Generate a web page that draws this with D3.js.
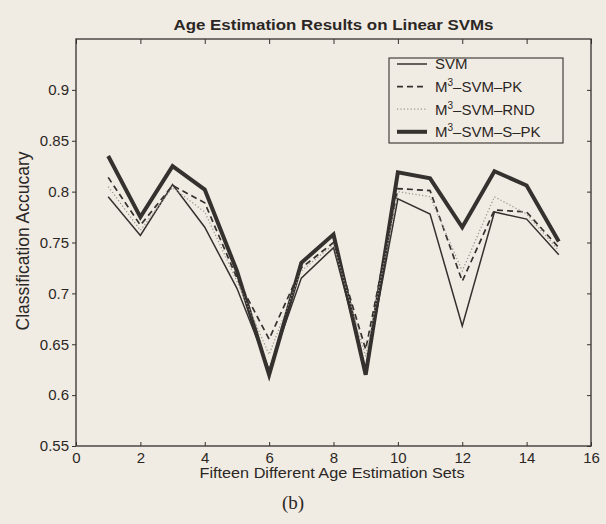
<html>
<head>
    <script src="https://d3js.org/d3.v7.min.js"></script>
    <style>
        body { margin: 0; background: #f1ece3; }
        text { font-family: "Liberation Sans", Arial, sans-serif; fill: #2b2725; }
    </style>
</head>
<body>
    <svg id="chart" width="606" height="524"></svg>

    <script>
    // fifteen age estimation sets
    const sets = [1, 2, 3, 4, 5, 6, 7, 8, 9, 10, 11, 12, 13, 14, 15];

    // classification accuracy
    const svmAcc  = [0.795, 0.757, 0.807, 0.765, 0.705, 0.625, 0.715, 0.745, 0.625, 0.793, 0.778, 0.668, 0.780, 0.773, 0.738];
    const pkAcc   = [0.814, 0.767, 0.806, 0.789, 0.715, 0.655, 0.725, 0.750, 0.645, 0.803, 0.801, 0.712, 0.782, 0.780, 0.745];
    const rndAcc  = [0.805, 0.762, 0.804, 0.780, 0.712, 0.640, 0.722, 0.748, 0.638, 0.800, 0.795, 0.722, 0.795, 0.778, 0.742];
    const spkAcc  = [0.835, 0.775, 0.825, 0.802, 0.722, 0.620, 0.730, 0.758, 0.620, 0.819, 0.813, 0.765, 0.820, 0.806, 0.751];

    const seriesNames = ["SVM", "M3–SVM–PK", "M3–SVM–RND", "M3–SVM–S–PK"];

    const xTicks = [0, 2, 4, 6, 8, 10, 12, 14, 16];
    const yTicks = [0.55, 0.6, 0.65, 0.7, 0.75, 0.8, 0.85, 0.9];
    const yTickLabels = ["0.55", "0.6", "0.65", "0.7", "0.75", "0.8", "0.85", "0.9"];

    const svg = d3.select("#chart");
    const ink = "#35312f";
    const plotLeft = 76, plotRight = 591, plotTop = 39, plotBottom = 446;

    const x = d3.scaleLinear().domain([0, 16]).range([plotLeft, plotRight]);
    const y = d3.scaleLinear().domain([0.55, 0.95]).range([plotBottom, plotTop]);

    svg.append("rect").attr("width", 606).attr("height", 524).attr("fill", "#f1ece3");

    // axes, matlab style box
    const styleAxis = g => {
        g.select(".domain").remove();
        g.selectAll("line").attr("stroke", ink).attr("stroke-width", 1);
        g.attr("font-family", null).attr("font-size", null);
        g.selectAll("text").style("font-size", "15px");
    };

    svg.append("g").attr("transform", `translate(0,${plotBottom})`)
        .call(d3.axisBottom(x).tickValues(xTicks).tickSizeInner(-4).tickSizeOuter(0).tickPadding(6).tickFormat(d3.format("d")))
        .call(styleAxis);
    svg.append("g").attr("transform", `translate(0,${plotTop})`)
        .call(d3.axisTop(x).tickValues(xTicks).tickSizeInner(-5).tickSizeOuter(0).tickFormat(""))
        .call(styleAxis);
    svg.append("g").attr("transform", `translate(${plotLeft},0)`)
        .call(d3.axisLeft(y).tickValues(yTicks).tickSizeInner(4).tickSizeOuter(0).tickPadding(3).tickFormat((d, i) => yTickLabels[i]))
        .call(styleAxis);
    svg.append("g").attr("transform", `translate(${plotRight},0)`)
        .call(d3.axisRight(y).tickValues(yTicks).tickSizeInner(-4).tickSizeOuter(0).tickFormat(""))
        .call(styleAxis);

    svg.append("rect")
        .attr("x", plotLeft).attr("y", plotTop)
        .attr("width", plotRight - plotLeft).attr("height", plotBottom - plotTop)
        .attr("fill", "none").attr("stroke", ink).attr("stroke-width", 1.3);

    // lines
    const series = [
        { name: seriesNames[3], values: spkAcc, width: 4, dash: null, color: ink },
        { name: seriesNames[0], values: svmAcc, width: 1.5, dash: null, color: ink },
        { name: seriesNames[1], values: pkAcc, width: 1.7, dash: "6,4", color: ink },
        { name: seriesNames[2], values: rndAcc, width: 1.3, dash: "1.2,2.2", color: "#9b958e" }
    ];

    const line = d3.line().x((d, i) => x(sets[i])).y(d => y(d));

    svg.append("g").selectAll("path").data(series)
        .join("path")
        .attr("d", d => line(d.values))
        .attr("fill", "none")
        .attr("stroke", d => d.color)
        .attr("stroke-width", d => d.width)
        .attr("stroke-dasharray", d => d.dash)
        .attr("stroke-linejoin", "miter");

    // legend
    const legend = svg.append("g");
    legend.append("rect")
        .attr("x", 389).attr("y", 58).attr("width", 174).attr("height", 85)
        .attr("fill", "#f1ece3").attr("stroke", ink).attr("stroke-width", 1.1);

    const legendOrder = [series[1], series[2], series[3], series[0]];
    legendOrder.forEach((s, i) => {
        const cy = 64 + i * 22.6;
        legend.append("line")
            .attr("x1", 397).attr("x2", 427).attr("y1", cy).attr("y2", cy)
            .attr("stroke", s.color).attr("stroke-width", s.width)
            .attr("stroke-dasharray", s.dash);
        const t = legend.append("text").attr("x", 435).attr("y", cy).attr("dy", "0.36em").style("font-size", "15px");
        if (s.name.startsWith("M3")) {
            t.append("tspan").text("M");
            t.append("tspan").text("3").attr("dy", -6).style("font-size", "10px");
            t.append("tspan").text(s.name.slice(2)).attr("dy", 6);
        } else {
            t.text(s.name);
        }
    });

    // titles
    svg.append("text")
        .attr("x", (plotLeft + plotRight) / 2).attr("y", 30)
        .attr("text-anchor", "middle")
        .attr("textLength", 320).attr("lengthAdjust", "spacingAndGlyphs")
        .style("font-size", "14px").style("font-weight", "bold")
        .text("Age Estimation Results on Linear SVMs");

    svg.append("text")
        .attr("x", 332).attr("y", 478)
        .attr("text-anchor", "middle")
        .attr("textLength", 265).attr("lengthAdjust", "spacingAndGlyphs")
        .style("font-size", "15.5px")
        .text("Fifteen Different Age Estimation Sets");

    svg.append("text")
        .attr("transform", "translate(29,241) rotate(-90)")
        .attr("text-anchor", "middle")
        .style("font-size", "17.5px")
        .text("Classification Accucary");

    svg.append("text")
        .attr("x", 293).attr("y", 509)
        .attr("text-anchor", "middle")
        .style("font-family", "'Liberation Serif', serif")
        .style("font-size", "19px")
        .text("(b)");
    </script>
</body>
</html>
